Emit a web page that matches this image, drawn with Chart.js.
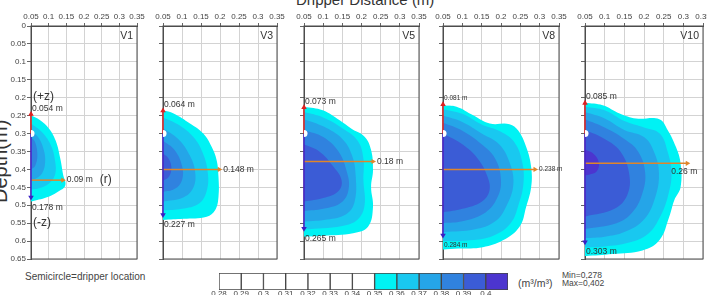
<!DOCTYPE html>
<html lang="en">
<head>
<meta charset="UTF-8">
<title>Wetting front contours</title>
<script src="https://cdn.jsdelivr.net/npm/chart.js@4.4.0/dist/chart.umd.min.js"></script>
<style>
	body { margin: 0; width: 707px; height: 295px; overflow: hidden; background: #fff; position: relative; font-family: "Liberation Sans", Arial, sans-serif; }
	canvas { position: absolute; }
	.txt { position: absolute; white-space: nowrap; line-height: 1; color: #333; }
</style>
</head>
<body>
<div class="txt" style="left:296px; top:-8px; font-size:15px;">Dripper Distance (m)</div>
<div class="txt" style="left:-10px; top:203px; font-size:20px; transform:rotate(-90deg); transform-origin:0 0;">Depth(m)</div>
<div class="txt" style="left:25px; top:272px; font-size:10px; color:#444;">Semicircle=dripper location</div>
<div class="txt" style="left:518px; top:278px; font-size:10.5px; color:#444;">(m³/m³)</div>
<div class="txt" style="left:562px; top:272px; font-size:8.5px; line-height:7.5px; color:#444;">Min=0,278<br>Max=0,402</div>
<script>
// ---- data ----
var panelNames = ["V1", "V3", "V5", "V8", "V10"];
var xTicks = [0.05, 0.1, 0.15, 0.2, 0.25, 0.3, 0.35];
var xTickLabels = ["0.05", "0.1", "0.15", "0.2", "0.25", "0.3", "0.35"];
var yTicks = [0, 0.05, 0.1, 0.15, 0.2, 0.25, 0.3, 0.35, 0.4, 0.45, 0.5, 0.55, 0.6, 0.65];
var yTickLabels = ["0", "0.05", "0.1", "0.15", "0.2", "0.25", "0.3", "0.35", "0.4", "0.45", "0.5", "0.55", "0.6", "0.65"];

var dripperX = 0.05;
var dripperDepth = 0.3;
var topDepth = [0.246, 0.236, 0.227, 0.219, 0.215];
var bottomDepth = [0.478, 0.527, 0.565, 0.584, 0.603];
var arrowDepth = [0.43, 0.40, 0.378, 0.40, 0.383];
var arrowEnd = [0.14, 0.198, 0.23, 0.288, 0.31];
var topLabels = ["0.054 m", "0.064 m", "0.073 m", "0.081 m", "0.085 m"];
var sideLabels = ["0.09 m", "0.148 m", "0.18 m", "0.238 m", "0.26 m"];
var bottomLabels = ["0.178 m", "0.227 m", "0.265 m", "0.284 m", "0.303 m"];

// contour outlines [distance, depth], from the 0.35 level inwards
var v1Contours = [
	[[0.05,0.25],[0.075,0.262],[0.1,0.285],[0.12,0.32],[0.133,0.37],[0.141,0.415],[0.147,0.445],[0.125,0.463],[0.095,0.478],[0.05,0.49]],
	[[0.05,0.272],[0.08,0.295],[0.105,0.33],[0.118,0.375],[0.118,0.415],[0.1,0.44],[0.075,0.452],[0.05,0.457]],
	[[0.05,0.292],[0.07,0.31],[0.086,0.345],[0.09,0.38],[0.082,0.41],[0.065,0.425],[0.05,0.43]],
	[[0.05,0.31],[0.062,0.325],[0.068,0.36],[0.062,0.39],[0.05,0.4]]
];
var v3Contours = [
	[[0.05,0.235],[0.078,0.244],[0.121,0.272],[0.156,0.3],[0.178,0.337],[0.191,0.374],[0.196,0.42],[0.196,0.477],[0.187,0.514],[0.165,0.532],[0.104,0.538],[0.05,0.541]],
	[[0.05,0.255],[0.09,0.275],[0.13,0.31],[0.155,0.355],[0.168,0.41],[0.165,0.46],[0.145,0.495],[0.1,0.51],[0.05,0.515]],
	[[0.05,0.285],[0.09,0.315],[0.12,0.36],[0.135,0.41],[0.128,0.455],[0.1,0.48],[0.05,0.49]],
	[[0.05,0.32],[0.08,0.345],[0.1,0.39],[0.1,0.43],[0.08,0.455],[0.05,0.463]],
	[[0.05,0.355],[0.065,0.37],[0.072,0.395],[0.066,0.42],[0.05,0.432]]
];
var v5Contours = [
	[[0.05,0.225],[0.099,0.235],[0.143,0.263],[0.173,0.286],[0.208,0.309],[0.225,0.346],[0.23,0.402],[0.225,0.449],[0.23,0.505],[0.217,0.56],[0.178,0.578],[0.1,0.585],[0.05,0.588]],
	[[0.05,0.24],[0.1,0.255],[0.15,0.285],[0.19,0.32],[0.205,0.37],[0.205,0.43],[0.208,0.5],[0.19,0.54],[0.15,0.558],[0.05,0.568]],
	[[0.05,0.26],[0.1,0.28],[0.15,0.315],[0.175,0.36],[0.185,0.42],[0.182,0.49],[0.16,0.525],[0.11,0.54],[0.05,0.546]],
	[[0.05,0.29],[0.1,0.31],[0.14,0.35],[0.16,0.4],[0.167,0.45],[0.15,0.49],[0.1,0.51],[0.05,0.516]],
	[[0.05,0.33],[0.09,0.35],[0.125,0.39],[0.148,0.43],[0.14,0.46],[0.1,0.48],[0.05,0.49]]
];
var v8Contours = [
	[[0.05,0.221],[0.085,0.225],[0.128,0.249],[0.171,0.272],[0.222,0.274],[0.244,0.291],[0.265,0.337],[0.278,0.393],[0.278,0.449],[0.265,0.505],[0.248,0.56],[0.205,0.598],[0.153,0.617],[0.09,0.621],[0.05,0.624]],
	[[0.05,0.232],[0.1,0.245],[0.15,0.275],[0.2,0.295],[0.235,0.325],[0.255,0.38],[0.258,0.44],[0.245,0.5],[0.225,0.55],[0.18,0.585],[0.12,0.598],[0.05,0.6]],
	[[0.05,0.25],[0.1,0.268],[0.15,0.3],[0.195,0.33],[0.222,0.38],[0.232,0.44],[0.215,0.5],[0.185,0.545],[0.13,0.568],[0.05,0.575]],
	[[0.05,0.27],[0.1,0.292],[0.15,0.33],[0.185,0.37],[0.2,0.43],[0.19,0.48],[0.16,0.52],[0.1,0.545],[0.05,0.55]],
	[[0.05,0.3],[0.1,0.33],[0.14,0.37],[0.165,0.42],[0.17,0.46],[0.15,0.49],[0.1,0.51],[0.05,0.52]]
];
var v10Contours = [
	[[0.05,0.214],[0.095,0.221],[0.138,0.244],[0.18,0.258],[0.239,0.26],[0.26,0.29],[0.281,0.337],[0.293,0.383],[0.293,0.45],[0.277,0.486],[0.264,0.533],[0.239,0.598],[0.196,0.626],[0.12,0.636],[0.05,0.642]],
	[[0.05,0.225],[0.1,0.235],[0.15,0.265],[0.2,0.283],[0.24,0.3],[0.26,0.35],[0.27,0.41],[0.262,0.47],[0.242,0.53],[0.21,0.58],[0.16,0.605],[0.1,0.615],[0.05,0.618]],
	[[0.05,0.24],[0.1,0.258],[0.15,0.29],[0.2,0.31],[0.225,0.35],[0.238,0.41],[0.228,0.48],[0.2,0.54],[0.15,0.575],[0.1,0.588],[0.05,0.592]],
	[[0.05,0.26],[0.1,0.283],[0.15,0.315],[0.185,0.35],[0.203,0.41],[0.195,0.47],[0.17,0.52],[0.13,0.55],[0.05,0.566]],
	[[0.05,0.29],[0.1,0.315],[0.14,0.35],[0.162,0.41],[0.158,0.47],[0.125,0.51],[0.05,0.532]],
	[[0.05,0.345],[0.07,0.355],[0.085,0.38],[0.08,0.405],[0.06,0.415],[0.05,0.417]]
];
var allContours = [v1Contours, v3Contours, v5Contours, v8Contours, v10Contours];

// colour bar
var colorbarEdges = [0.28, 0.29, 0.3, 0.31, 0.32, 0.33, 0.34, 0.35, 0.36, 0.37, 0.38, 0.39, 0.4, 0.41];
var colorbarTicks = [0.28, 0.29, 0.3, 0.31, 0.32, 0.33, 0.34, 0.35, 0.36, 0.37, 0.38, 0.39, 0.4];
var colorbarLabels = ["0.28", "0.29", "0.3", "0.31", "0.32", "0.33", "0.34", "0.35", "0.36", "0.37", "0.38", "0.39", "0.4"];

// ---- styles / layout ----
var levelColors = ["#00f2f4", "#19c8f0", "#25a5e8", "#3082df", "#3b5cd6", "#4c35cf"];
var colorbarColors = ["#fff", "#fff", "#fff", "#fff", "#fff", "#fff", "#fff"].concat(levelColors);
var panelLeft = [31, 163, 304, 443, 585];
var panelWidth = [106, 114, 115, 116, 118];
var plotTop = 26, plotHeight = 233;
var labelFont = [8.5, 8.5, 8.5, 6.5, 8.5];
var FONT = '"Liberation Sans", Arial, sans-serif';

function pts(list) {
	return list.map(function (p) { return {x: p[0], y: p[1]}; });
}

function buildDatasets(i) {
	var ds = [];
	ds.push({data: [{x: dripperX, y: dripperDepth}], showLine: false, pointRadius: 3.5, pointBackgroundColor: "#fff", pointBorderWidth: 0, clip: 0, order: 0});
	ds.push({data: [{x: dripperX, y: topDepth[i]}], showLine: false, pointStyle: "triangle", pointRadius: 3.2, pointBackgroundColor: "#e02020", pointBorderWidth: 0, clip: false, order: 1});
	ds.push({data: [{x: dripperX, y: bottomDepth[i]}], showLine: false, pointStyle: "triangle", pointRotation: 180, pointRadius: 3.2, pointBackgroundColor: "#3a1fc4", pointBorderWidth: 0, clip: false, order: 1});
	ds.push({data: [{x: dripperX, y: topDepth[i]}, {x: dripperX, y: dripperDepth}], borderColor: "#e02020", borderWidth: 1.5, pointRadius: 0, fill: false, clip: false, order: 2});
	ds.push({data: [{x: dripperX, y: dripperDepth}, {x: dripperX, y: bottomDepth[i]}], borderColor: "#4a22c8", borderWidth: 1.5, pointRadius: 0, fill: false, clip: false, order: 2});
	ds.push({data: [{x: dripperX, y: arrowDepth[i]}, {x: arrowEnd[i], y: arrowDepth[i]}], borderColor: "#e0852a", borderWidth: 1.5,
		pointRadius: [0, 3], pointStyle: "triangle", pointRotation: 90, pointBackgroundColor: "#e0852a", pointBorderWidth: 0, fill: false, clip: false, order: 3});
	allContours[i].forEach(function (outline, lev) {
		ds.push({data: pts(outline), backgroundColor: levelColors[lev], borderWidth: 0, pointRadius: 0, tension: 0.4, fill: {value: dripperX}, order: 20 - lev});
	});
	return ds;
}

function notesPlugin(i) {
	return {
		id: "notes" + i,
		beforeDatasetsDraw: function (chart) {
			var ctx = chart.ctx, a = chart.chartArea;
			ctx.save();
			ctx.strokeStyle = "#4d4d4d";
			ctx.lineWidth = 1;
			ctx.strokeRect(a.left, a.top, a.right - a.left, a.bottom - a.top);
			ctx.restore();
		},
		afterDatasetsDraw: function (chart) {
			var ctx = chart.ctx, a = chart.chartArea, sx = chart.scales.x, sy = chart.scales.y;
			var x0 = sx.getPixelForValue(dripperX);
			ctx.save();
			ctx.fillStyle = "#333";
			ctx.textBaseline = "middle";
			ctx.textAlign = "right";
			ctx.font = "10.5px " + FONT;
			ctx.fillText(panelNames[i], a.right - 4, a.top + 10);
			ctx.textAlign = "left";
			ctx.font = labelFont[i] + "px " + FONT;
			ctx.fillText(topLabels[i], x0 + 1, sy.getPixelForValue(topDepth[i]) - 6);
			ctx.fillText(bottomLabels[i], x0 + 1, sy.getPixelForValue(bottomDepth[i]) + 10);
			var ex = sx.getPixelForValue(arrowEnd[i]), ey = sy.getPixelForValue(arrowDepth[i]);
			if (i == 4) {
				ctx.fillText(sideLabels[i], ex - 16, ey + 8);
			} else {
				ctx.fillText(sideLabels[i], ex + 4, ey);
			}
			if (i == 0) {
				var w = ctx.measureText(sideLabels[i]).width;
				ctx.font = "12px " + FONT;
				ctx.fillText("(+z)", x0 + 2, sy.getPixelForValue(0.198));
				ctx.fillText("(-z)", x0 + 2, sy.getPixelForValue(0.55));
				ctx.fillText("(r)", ex + 4 + w + 7, ey);
			}
			ctx.restore();
		}
	};
}

function makePanel(i) {
	var yW = (i == 0) ? 31 : 14;
	var xH = 16, padR = 9, padB = 6;
	var cv = document.createElement("canvas");
	cv.width = yW + panelWidth[i] + padR;
	cv.height = xH + plotHeight + padB;
	cv.style.left = (panelLeft[i] - yW) + "px";
	cv.style.top = (plotTop - xH) + "px";
	document.body.appendChild(cv);
	new Chart(cv, {
		type: "line",
		data: {datasets: buildDatasets(i)},
		plugins: [notesPlugin(i)],
		options: {
			indexAxis: "y",
			responsive: false,
			animation: false,
			events: [],
			layout: {padding: {left: 0, top: 0, right: padR, bottom: padB}},
			plugins: {legend: {display: false}, tooltip: {enabled: false}},
			scales: {
				x: {
					type: "linear", position: "top", min: 0.05, max: 0.35,
					afterBuildTicks: function (s) { s.ticks = xTicks.map(function (v) { return {value: v}; }); },
					afterFit: function (s) { s.height = xH; },
					ticks: {font: {size: 8, family: FONT}, color: "#444", padding: 1, maxRotation: 0, autoSkip: false,
						callback: function (v, idx) { return xTickLabels[idx]; }},
					grid: {color: "#d3d3d3", lineWidth: 1, tickLength: 3, tickColor: "#666"},
					border: {color: "#4d4d4d"}
				},
				y: {
					type: "linear", reverse: true, min: 0, max: 0.65,
					afterBuildTicks: function (s) { s.ticks = yTicks.map(function (v) { return {value: v}; }); },
					afterFit: function (s) { s.width = yW; },
					ticks: {display: i == 0, font: {size: 8, family: FONT}, color: "#444", padding: 1, autoSkip: false,
						callback: function (v, idx) { return yTickLabels[idx]; }},
					grid: {color: "#d3d3d3", lineWidth: 1, tickLength: 4, tickColor: "#666"},
					border: {color: "#4d4d4d"}
				}
			}
		}
	});
}

for (var i = 0; i < panelNames.length; i++) {
	makePanel(i);
}

// colour bar
var cb = document.createElement("canvas");
cb.width = 312;
cb.height = 30;
cb.style.left = "210px";
cb.style.top = "272px";
document.body.appendChild(cb);
var cbSets = [];
for (var k = 0; k < colorbarEdges.length - 1; k++) {
	cbSets.push({data: [[colorbarEdges[k], colorbarEdges[k + 1]]], backgroundColor: colorbarColors[k], borderColor: "#444",
		borderWidth: 1, borderSkipped: false, grouped: false, barPercentage: 1, categoryPercentage: 1});
}
new Chart(cb, {
	type: "bar",
	data: {labels: ["level"], datasets: cbSets},
	options: {
		indexAxis: "y",
		responsive: false,
		animation: false,
		events: [],
		layout: {padding: {left: 9, right: 14, top: 1, bottom: 0}},
		plugins: {legend: {display: false}, tooltip: {enabled: false}},
		scales: {
			x: {
				type: "linear", min: 0.28, max: 0.41,
				afterBuildTicks: function (s) { s.ticks = colorbarTicks.map(function (v) { return {value: v}; }); },
				afterFit: function (s) { s.height = 12; },
				ticks: {font: {size: 8, family: FONT, lineHeight: 1}, color: "#444", padding: 0, maxRotation: 0, autoSkip: false,
					callback: function (v, idx) { return colorbarLabels[idx]; }},
				grid: {display: false, drawTicks: false},
				border: {display: false}
			},
			y: {display: false}
		}
	}
});
</script>
</body>
</html>
